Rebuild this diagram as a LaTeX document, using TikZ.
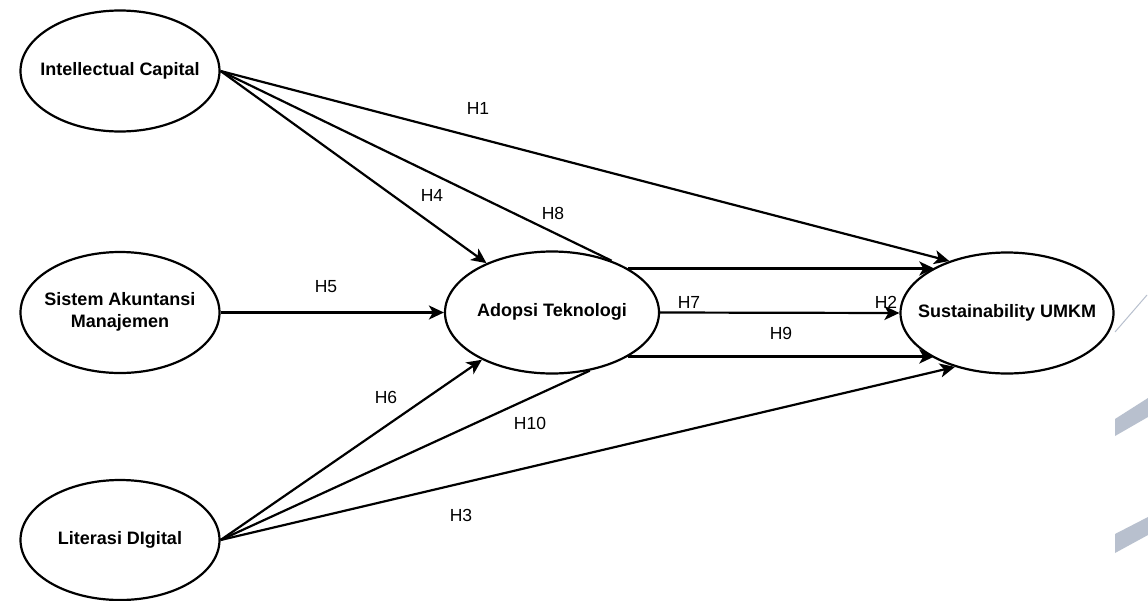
\documentclass[tikz,border=0pt]{standalone}
\usepackage{fontspec}
\setmainfont{Liberation Sans}
\usetikzlibrary{arrows.meta,shapes.geometric}
\definecolor{wmark}{HTML}{B8C0CE}
\newcommand{\ctext}[1]{\makebox[0pt]{\begin{tabular}{@{}c@{}}#1\end{tabular}}}
\tikzset{
  x=1pt, y=-1pt,
  construct/.style={draw=black, line width=2.2pt, ellipse, inner sep=0pt,
    font=\fontsize{18}{22}\selectfont\bfseries},
  hyplabel/.style={inner sep=0pt, font=\fontsize{17.5}{20}\selectfont},
  plainline/.style={draw=black, line width=2.2pt},
  arr/.style={plainline, -{Stealth[length=15pt, width=14pt, inset=4pt]}},
}
\begin{document}
\begin{tikzpicture}
\useasboundingbox (0,0) rectangle (1148,600);
\fill[white] (0,0) rectangle (1148,600);

% watermark remnants at the right border
\draw[wmark, line width=1pt] (1147,295) -- (1115,332);
\fill[wmark] (1115,419) -- (1148,398) -- (1148,417) -- (1115,436) -- cycle;
\fill[wmark] (1115,534) -- (1148,517) -- (1148,535) -- (1115,553) -- cycle;

% constructs
\node[construct, minimum width=199pt, minimum height=121pt] (ic)  at (120,71)    {\ctext{Intellectual Capital}};
\node[construct, minimum width=199pt, minimum height=121pt] (sam) at (120,312.5) {\ctext{Sistem Akuntansi\\Manajemen}};
\node[construct, minimum width=199pt, minimum height=120pt] (ld)  at (120,540)   {\ctext{Literasi DIgital}};
\node[construct, minimum width=214pt, minimum height=122pt] (at)  at (552,312.5) {\ctext{Adopsi Teknologi}};
\node[construct, minimum width=213pt, minimum height=121pt] (su)  at (1007,313)  {\ctext{Sustainability UMKM}};

% connectors
\draw[arr]  (ic.east) -- (su.138);
\draw[arr]  (ic.east) -- (at.143.5);
\draw[plainline] (ic.east) -- (at.41.7);
\draw[arr]  (sam.east) -- (at.west);
\draw[arr]  (at.30) -- (at.30 -| su.148);
\draw[arr]  (at.east) -- (su.west);
\draw[arr]  (at.-30) -- (at.-30 -| su.-148);
\draw[arr]  (ld.east) -- (at.214.2);
\draw[plainline] (ld.east) -- (at.303.5);
\draw[arr]  (ld.east) -- (su.226);

% hypothesis labels
\node[hyplabel] (lh1)  at (478,108) {H1};
\node[hyplabel] (lh4)  at (432,195) {H4};
\node[hyplabel] (lh8)  at (553,213) {H8};
\node[hyplabel] (lh5)  at (326,287) {H5};
\node[hyplabel] (lh7)  at (689,302) {H7};
\node[hyplabel] (lh2)  at (886,302) {H2};
\node[hyplabel] (lh9)  at (781,333) {H9};
\node[hyplabel] (lh6)  at (386,397) {H6};
\node[hyplabel] (lh10) at (530,423) {H10};
\node[hyplabel] (lh3)  at (461,515) {H3};
\end{tikzpicture}
\end{document}
